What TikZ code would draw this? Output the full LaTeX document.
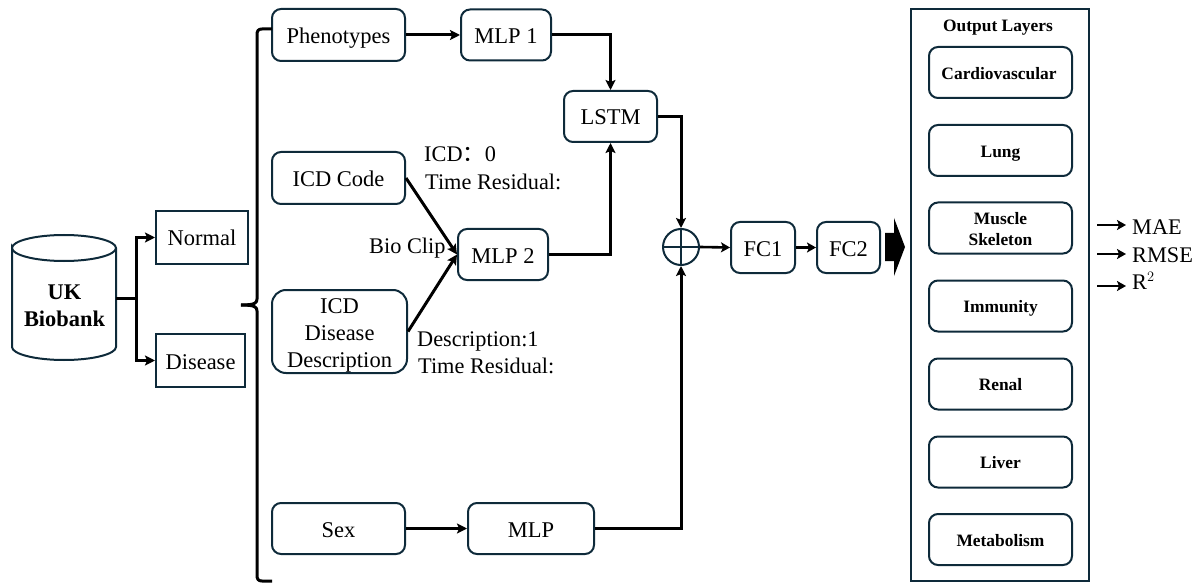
\documentclass[tikz,border=0pt]{standalone}
\usepackage{fontspec}
\setmainfont{Liberation Serif}
\newfontfamily\cjkfont{Noto Sans CJK SC}
\usetikzlibrary{arrows.meta}
\definecolor{edgeC}{HTML}{0E2A3A}
\tikzset{
  x=1pt,y=-1pt,
  base/.style={draw=edgeC,line width=2pt,inner sep=0pt,align=center,font=\fontsize{22.5}{27}\selectfont,text=black},
  onel/.style={text height=17pt,text depth=0pt},
  rbox/.style={base,rounded corners=9pt},
  sbox/.style={base},
  outbox/.style={rbox,minimum width=143pt,minimum height=51pt,font=\fontsize{17.4}{21}\selectfont\bfseries},
  outl/.style={text height=13.5pt,text depth=0pt},
  lab/.style={anchor=base west,inner sep=0pt,font=\fontsize{22.3}{27}\selectfont,text=black},
  conn/.style={draw=black,line width=3pt,-{Stealth[length=10pt,width=10pt,inset=2pt]}},
  thin conn/.style={draw=black,line width=2.6pt,-{Stealth[length=9pt,width=10pt,inset=2pt]}},
  plainline/.style={draw=black,line width=3pt},
}
\begin{document}
\begin{tikzpicture}
\useasboundingbox (0,0) rectangle (1194,588);
% database
\draw[draw=edgeC,line width=2pt] (12,248) .. controls (12,241) and (35,235) .. (64,235) .. controls (93,235) and (116,241) .. (116,248) .. controls (116,255) and (93,261) .. (64,261) .. controls (35,261) and (12,255) .. (12,248) -- (12,347) .. controls (12,354) and (35,360) .. (64,360) .. controls (93,360) and (116,354) .. (116,347) -- (116,248);
\node[align=center,inner sep=0pt,font=\fontsize{22.4}{27}\selectfont\bfseries] (uk) at (64.5,306) {UK\\Biobank};
\node[sbox,onel,minimum width=92pt,minimum height=53pt] (normal) at (202,237.5) {Normal};
\node[sbox,onel,minimum width=89pt,minimum height=53pt] (disease) at (200.5,360.5) {Disease};
\coordinate (split) at (136,298);
\coordinate (ukout) at (116,298);
% left column
\node[rbox,onel,minimum width=133pt,minimum height=52pt] (pheno) at (338.5,35) {Phenotypes};
\node[rbox,onel,minimum width=133pt,minimum height=52pt] (icd) at (338.5,178) {ICD Code};
\node[rbox,minimum width=135pt,minimum height=83pt,rounded corners=14pt] (desc) at (339.5,331.5) {};
\node[inner sep=0pt,align=center,font=\fontsize{22.5}{27}\selectfont] (desclabel) at (339.5,335) {ICD\\Disease\\Description};
\node[rbox,onel,minimum width=133pt,minimum height=51pt] (sex) at (338.5,528.5) {Sex};
% middle
\node[rbox,onel,minimum width=90pt,minimum height=51pt] (mlp1) at (506,35) {MLP 1};
\node[rbox,onel,minimum width=93pt,minimum height=51pt] (lstm) at (610.5,116.5) {LSTM};
\node[rbox,onel,minimum width=90pt,minimum height=51pt] (mlp2) at (503,254.5) {MLP 2};
\node[rbox,onel,minimum width=126pt,minimum height=51pt] (mlp) at (531,528.5) {MLP};
\node[circle,draw=edgeC,line width=2pt,minimum size=36pt,inner sep=0pt] (plus) at (681,247) {};
\node[rbox,onel,minimum width=64pt,minimum height=51pt] (fc1) at (763,247.5) {FC1};
\node[rbox,onel,minimum width=63pt,minimum height=51pt] (fc2) at (848.5,247.5) {FC2};
% output panel
\node[draw=edgeC,line width=2pt,minimum width=178pt,minimum height=572pt,inner sep=0pt] (panel) at (1000,295) {};
\node[inner sep=0pt,outl,font=\fontsize{17.4}{21}\selectfont\bfseries] (ptitle) at (998,25) {Output Layers};
\node[outbox,outl] (o1) at (1000.5,72.5) {Cardiovascular\hspace*{3pt}};
\node[outbox,outl] (o2) at (1000.5,150.5) {Lung};
\node[outbox] (o3) at (1000.5,228) {};
\node[inner sep=0pt,align=center,font=\fontsize{17.4}{21}\selectfont\bfseries] (o3label) at (1000.5,229) {Muscle\\Skeleton};
\node[outbox,outl] (o4) at (1000.5,306) {Immunity};
\node[outbox,outl] (o5) at (1000.5,384) {Renal};
\node[outbox,outl] (o6) at (1000.5,462) {Liver};
\node[outbox,outl] (o7) at (1000.5,539.5) {Metabolism};
% text labels
\node[lab] (t1) at (424,162) {ICD{\cjkfont：}0};
\node[lab] (t2) at (425,190) {Time Residual:};
\node[lab] (t3) at (369,254) {Bio Clip};
\node[lab] (t4) at (417,346) {Description:1};
\node[lab] (t5) at (418,373) {Time Residual:};
\node[lab] (m1) at (1132,235) {MAE};
\node[lab] (m2) at (1132,262) {RMSE};
\node[lab] (m3) at (1132,289) {R$^{2}$};
% connectors
\draw[plainline] (ukout) -- (split);
\draw[conn] (split) |- (normal.west);
\draw[conn] (split) |- (disease.west);
\draw[conn] (pheno.east) -- (mlp1.west);
\draw[conn] (mlp1.east) -| (lstm.north);
\draw[conn] (mlp2.east) -| (lstm.south);
\draw[conn] (icd.east) -- (mlp2.west);
\draw[conn] (desc.east) -- (mlp2.west);
\draw[conn] (sex.east) -- (mlp.west);
\draw[conn] (lstm.east) -| (plus.north);
\draw[conn] (mlp.east) -| (plus.south);
\draw[thin conn] (plus.east) -- (fc1.west);
\draw[thin conn] (fc1.east) -- (fc2.west);
% plus cross
\draw[draw=edgeC,line width=2pt] (plus.north) -- (plus.south) (plus.west) -- (plus.east);
% block arrow
\fill[black] (885,233) -- (894,233) -- (894,218) -- (905,247) -- (894,276) -- (894,261) -- (885,261) -- cycle;
% metric arrows
\coordinate (a1) at (1097,225); \coordinate (b1) at (1126,225);
\coordinate (a2) at (1097,254); \coordinate (b2) at (1126,254);
\coordinate (a3) at (1097,286); \coordinate (b3) at (1126,286);
\draw[thin conn] (a1) -- (b1);
\draw[thin conn] (a2) -- (b2);
\draw[thin conn] (a3) -- (b3);
% brace
\draw[black,line width=3pt,line join=round] (272,29) -- (262,29) .. controls (258,29) and (257,31) .. (257,35) -- (257,299) .. controls (257,303) and (255,305) .. (241,305);
\draw[black,line width=3pt,line join=round] (241,305) .. controls (255,305) and (257,307) .. (257,311) -- (257,575) .. controls (257,579) and (258,581) .. (262,581) -- (272,581);
\end{tikzpicture}
\end{document}
